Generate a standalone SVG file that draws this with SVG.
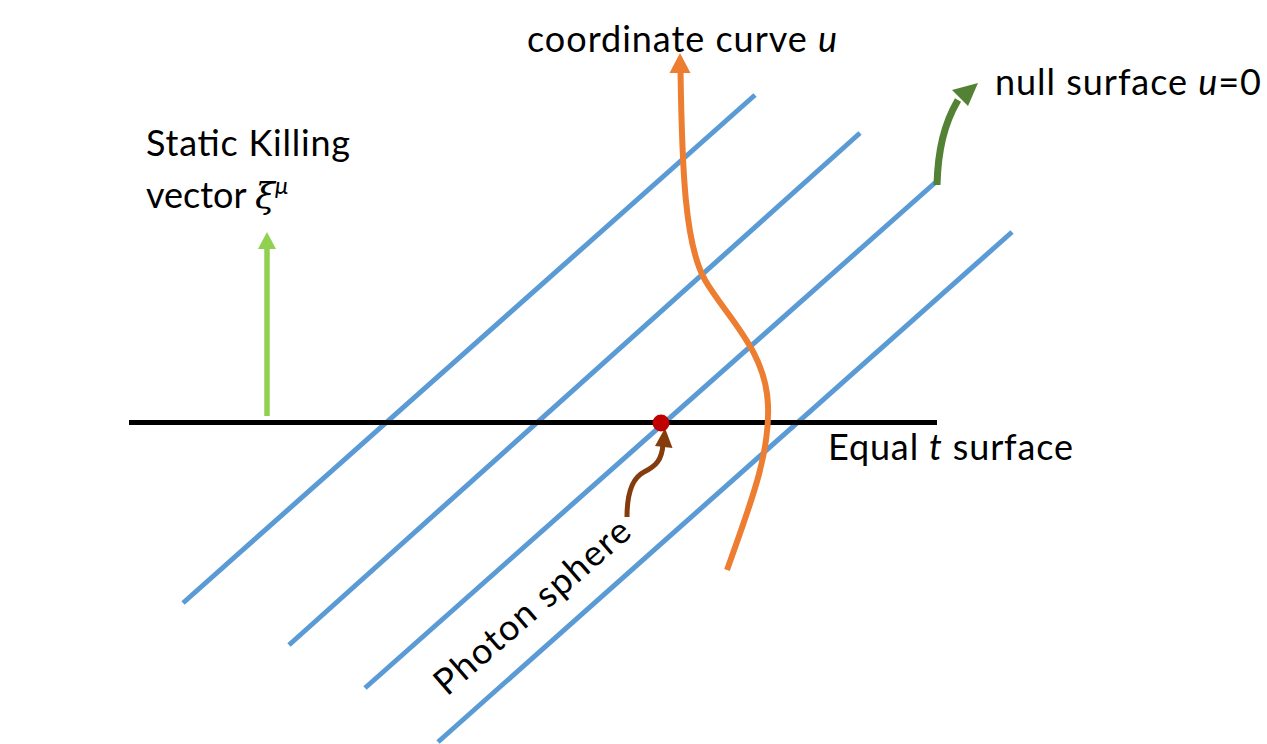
<svg xmlns="http://www.w3.org/2000/svg" width="1267" height="744" viewBox="0 0 1267 744">
<style>
.lbl{font-family:Lato,"Liberation Sans",sans-serif;font-size:36px;fill:#000}
.it{font-style:italic}
.blue{stroke:#5B9BD5;stroke-width:5;fill:none}
</style>
<g id="null-lines">
<line class="blue" x1="183" y1="603" x2="755" y2="95"/>
<line class="blue" x1="289" y1="645" x2="860" y2="133"/>
<line class="blue" x1="365" y1="688" x2="937" y2="181"/>
<line class="blue" x1="438" y1="742" x2="1012" y2="232"/>
</g>
<g id="equal-t-surface">
<line x1="129" y1="422.5" x2="937" y2="422.5" stroke="#000" stroke-width="5"/>
<text class="lbl" x="828" y="460" textLength="245" lengthAdjust="spacing">Equal <tspan class="it">t</tspan> surface</text>
</g>
<g id="coordinate-curve">
<path d="M727,570 C750,505 770,455 768,405 C766,350 725,315 705,280 C685,245 682,170 680.5,70" fill="none" stroke="#ED7D31" stroke-width="6"/>
<polygon points="680,53 690.5,73 669.5,73" fill="#ED7D31"/>
<text class="lbl" x="527" y="52" textLength="310" lengthAdjust="spacing">coordinate curve <tspan class="it">u</tspan></text>
</g>
<g id="killing-vector">
<line x1="267" y1="416" x2="267" y2="246" stroke="#92D050" stroke-width="5.5"/>
<polygon points="267,232 276,249 258,249" fill="#92D050"/>
<text class="lbl" x="146" y="156" textLength="204" lengthAdjust="spacing">Static Killing</text>
<text class="lbl" x="146" y="208">vector <tspan font-family="'DejaVu Serif',serif" font-style="italic">ξ</tspan><tspan class="it" font-size="24" dy="-14">μ</tspan></text>
</g>
<g id="null-surface-label">
<path d="M937,185 C938,150 944,124 958,100" fill="none" stroke="#548235" stroke-width="7"/>
<polygon points="978,83 968,106 952,90" fill="#548235"/>
<text class="lbl" x="995" y="95" textLength="266" lengthAdjust="spacing">null surface <tspan class="it">u</tspan>=0</text>
</g>
<g id="photon-sphere">
<path d="M627,517 C627,495 632,478 644,472 C656,466 662,460 663,444" fill="none" stroke="#843C0C" stroke-width="5"/>
<polygon points="665,428 672.5,448 655,446" fill="#843C0C"/>
<circle cx="661" cy="423" r="8.5" fill="#C00000"/>
<text class="lbl" transform="translate(447,697) rotate(-41)" textLength="247" lengthAdjust="spacing">Photon sphere</text>
</g>
</svg>
